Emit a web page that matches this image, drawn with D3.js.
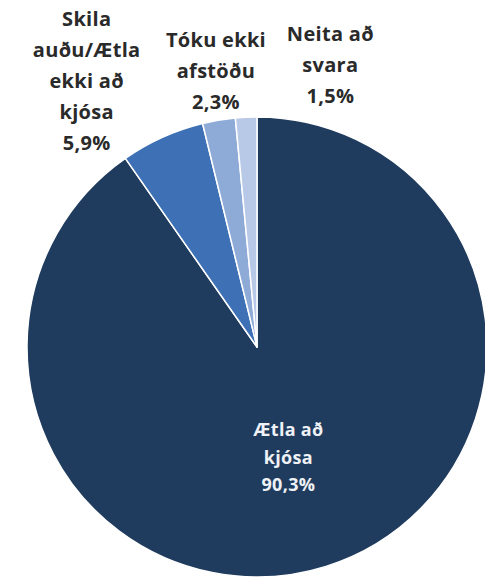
<!DOCTYPE html>
<html>
<head>
<meta charset="utf-8">
<script src="https://cdn.jsdelivr.net/npm/d3@7"></script>
<style>
  html, body { margin: 0; padding: 0; background: #fff; }
  svg { display: block; }
  text { font-family: "Open Sans", Lato, sans-serif; font-weight: 700; }
</style>
</head>
<body>
<svg id="chart" width="485" height="577"></svg>
<script>
// data
const categories = ["Ætla að kjósa", "Skila auðu/Ætla ekki að kjósa", "Tóku ekki afstöðu", "Neita að svara"];
const values = [90.3, 5.9, 2.3, 1.5];
const labelLines = [
  ["Ætla að", "kjósa"],
  ["Skila", "auðu/Ætla", "ekki að", "kjósa"],
  ["Tóku ekki", "afstöðu"],
  ["Neita að", "svara"]
];
const colors = ["#1f3b5e", "#3d70b5", "#8eabd8", "#b8c9e8"];

const svg = d3.select("#chart");
const width = +svg.attr("width");
const height = +svg.attr("height");
const cx = 257, cy = 347, radius = 230;

const fmt = (v) => d3.format(".1f")(v).replace(".", ",") + "%";

const pie = d3.pie().sort(null).value((d) => d.value);
const arcs = pie(values.map((v, i) => ({ name: categories[i], value: v, lines: labelLines[i] })));

const arc = d3.arc().innerRadius(0).outerRadius(radius);

const group = svg.append("g").attr("transform", `translate(${cx}, ${cy})`);

group.selectAll("path")
  .data(arcs)
  .join("path")
  .attr("d", arc)
  .attr("fill", (d, i) => colors[i])
  .attr("stroke", "#fff")
  .attr("stroke-width", 1.5)
  .attr("stroke-linejoin", "round");

// labels: first one inside the big slice, the rest above the pie
const innerArc = d3.arc().innerRadius(118).outerRadius(118);
const outerArc = d3.arc().innerRadius(290).outerRadius(290);
const nudge = [[-4, -3], [-51, -3], [7, 9], [87, 7]];

arcs.forEach((d, i) => {
  const inside = i === 0;
  const c = (inside ? innerArc : outerArc).centroid(d);
  const x = c[0] + nudge[i][0];
  const y = c[1] + nudge[i][1];
  const lines = d.data.lines.concat([fmt(d.data.value)]);
  const step = inside ? 27.5 : 31;
  const top = y - (lines.length - 1) * step / 2;

  const t = group.append("text")
    .attr("text-anchor", "middle")
    .attr("dominant-baseline", "central")
    .attr("font-size", inside ? "18px" : "20px")
    .attr("letter-spacing", "0.3px")
    .attr("fill", inside ? "#eef1f5" : "#2a2a2a");

  lines.forEach((line, k) => {
    t.append("tspan")
      .attr("x", x)
      .attr("y", top + k * step)
      .text(line);
  });
});
</script>
</body>
</html>
